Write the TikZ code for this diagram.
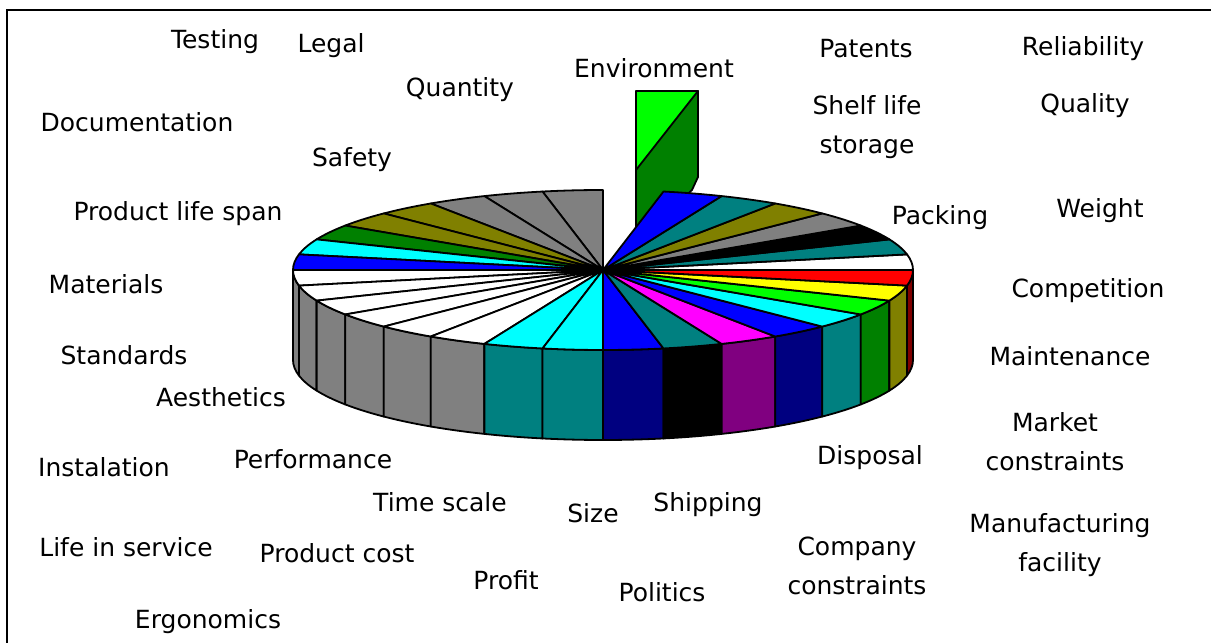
\documentclass[tikz,border=0pt]{standalone}
\usepackage{fontspec}
\setmainfont{DejaVu Sans}
\usetikzlibrary{calc}

\definecolor{pteal}{HTML}{008080}
\definecolor{polive}{HTML}{808000}
\definecolor{pgray}{HTML}{808080}
\definecolor{pnavy}{HTML}{000080}
\definecolor{pmaroon}{HTML}{800000}
\definecolor{ppurple}{HTML}{800080}
\definecolor{pgreen}{HTML}{008000}
\definecolor{lgreen}{HTML}{00FF00}
\definecolor{pblue}{HTML}{0000FF}
\definecolor{pcyan}{HTML}{00FFFF}
\definecolor{pmagenta}{HTML}{FF00FF}
\definecolor{pyellow}{HTML}{FFFF00}
\definecolor{pred}{HTML}{FF0000}

\tikzset{
  lbl/.style={font=\fontsize{25}{29}\selectfont, inner sep=0pt},
  lbltwo/.style={font=\fontsize{25}{39}\selectfont, inner sep=0pt, align=center},
  facet/.style={draw=black, line width=1.8pt, line join=round},
}

\begin{document}
\begin{tikzpicture}[x=1pt,y=1pt]
  \useasboundingbox (0,0) rectangle (1211,643);
  \draw[line width=2pt] (7,0) -- (7,633) -- (1211,633);

  \coordinate (C) at (603,373);

  \path[facet, fill=pgreen] (636,552) -- (698,552) -- (698,466) -- (692,453) -- (636,400) -- cycle;
  \path[facet, fill=lgreen] (636,552) -- (698,552) -- (636,473) -- cycle;

  \foreach \i/\c in {16/pgray,17/pgray,18/pgray,19/pgray,20/pgray,21/pgray,22/pteal,23/pteal,
                     24/pnavy,25/black,26/ppurple,27/pnavy,28/pteal,29/pgreen,30/polive,31/pmaroon} {
    \pgfmathsetmacro\a{\i*11.25}
    \pgfmathsetmacro\b{\a+11.25}
    \path[facet, fill=\c] ($(C)+(\a:310pt and 80pt)$)
      arc[start angle=\a, end angle=\b, x radius=310pt, y radius=80pt] -- ++(0,-90)
      arc[start angle=\b, end angle=\a, x radius=310pt, y radius=80pt] -- cycle;
  }

  \foreach \i/\c in {0/white,1/pteal,2/black,3/pgray,4/polive,5/pteal,6/pblue,
                     8/pgray,9/pgray,10/pgray,11/polive,12/polive,13/pgreen,14/pcyan,15/pblue,
                     16/white,17/white,18/white,19/white,20/white,21/white,22/pcyan,23/pcyan,
                     24/pblue,25/pteal,26/pmagenta,27/pblue,28/pcyan,29/lgreen,30/pyellow,31/pred} {
    \pgfmathsetmacro\a{\i*11.25}
    \pgfmathsetmacro\b{\a+11.25}
    \path[facet, fill=\c] (C) -- ($(C)+(\a:310pt and 80pt)$)
      arc[start angle=\a, end angle=\b, x radius=310pt, y radius=80pt] -- cycle;
  }

  \node[lbl] (testing) at (215,601) {Testing};
  \node[lbl] (legal) at (331,597) {Legal};
  \node[lbl] (quantity) at (460,553) {Quantity};
  \node[lbl] (environment) at (654,575) {Environment};
  \node[lbl] (patents) at (866,594) {Patents};
  \node[lbl] (reliability) at (1083,594) {Reliability};
  \node[lbl] (documentation) at (137,521) {Documentation};
  \node[lbl] (safety) at (352,483) {Safety};
  \node[lbltwo] (shelf) at (867,516) {Shelf life\\storage};
  \node[lbl] (quality) at (1085,537) {Quality};
  \node[lbl] (lifespan) at (178,429) {Product life span};
  \node[lbl] (packing) at (940,425) {Packing};
  \node[lbl] (weight) at (1100,432) {Weight};
  \node[lbl] (materials) at (106,359) {Materials};
  \node[lbl] (competition) at (1088,352) {Competition};
  \node[lbl] (standards) at (124,288) {Standards};
  \node[lbl] (maintenance) at (1070,287) {Maintenance};
  \node[lbl] (aesthetics) at (221,246) {Aesthetics};
  \node[lbltwo] (market) at (1055,201) {Market\\constraints};
  \node[lbl] (instalation) at (104,176) {Instalation};
  \node[lbl] (performance) at (313,184) {Performance};
  \node[lbl] (disposal) at (870,185) {Disposal};
  \node[lbl] (timescale) at (440,141) {Time scale};
  \node[lbl] (size) at (593,130) {Size};
  \node[lbl] (shipping) at (708,138) {Shipping};
  \node[lbltwo] (manufacturing) at (1060,98) {Manufacturing\\facility};
  \node[lbl] (service) at (126,96) {Life in service};
  \node[lbl] (cost) at (337,90) {Product cost};
  \node[lbltwo] (company) at (857,77) {Company\\constraints};
  \node[lbl] (profit) at (506,63) {Profit};
  \node[lbl] (politics) at (662,51) {Politics};
  \node[lbl] (ergonomics) at (208,21) {Ergonomics};
\end{tikzpicture}
\end{document}
